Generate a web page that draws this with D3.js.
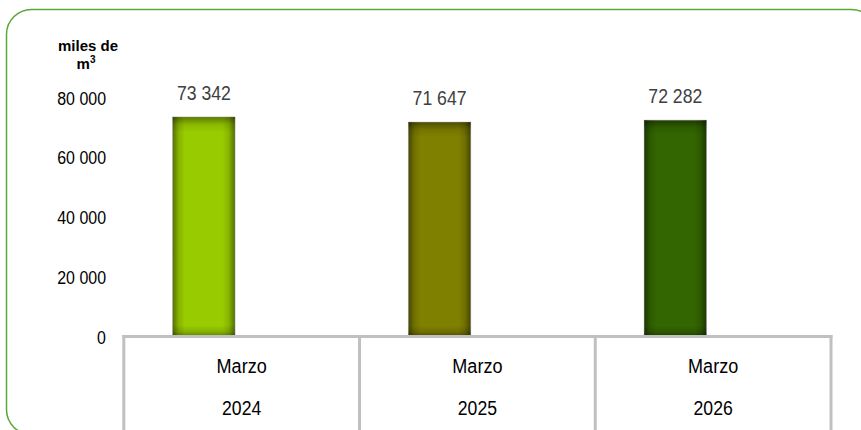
<!DOCTYPE html>
<html>
<head>
<meta charset="utf-8">
<script src="https://cdn.jsdelivr.net/npm/d3@7/dist/d3.min.js"></script>
<style>
  html, body { margin: 0; padding: 0; background: #ffffff; }
  svg { display: block; }
</style>
</head>
<body>
<div id="chart"></div>
<script>
// ---- data ----
const months = ["Marzo", "Marzo", "Marzo"];
const years = ["2024", "2025", "2026"];
const values = [73342, 71647, 72282];
const yTicks = [0, 20000, 40000, 60000, 80000];
const barColors = ["#99cc00", "#808000", "#336600"];
const unitLines = ["miles de", "m"];

const W = 861, H = 430;
const sans = "'Liberation Sans', Arial, sans-serif";
const SX = 0.84; // horizontal condensation of the text
const fmt = v => d3.format(",")(v).replace(/,/g, " ");

const svg = d3.select("#chart").append("svg")
  .attr("width", W).attr("height", H);

// outer rounded border
svg.append("rect")
  .attr("x", 6.5).attr("y", 9.5)
  .attr("width", 870).attr("height", 425)
  .attr("rx", 25).attr("ry", 25)
  .attr("fill", "none")
  .attr("stroke", "#5aa83a")
  .attr("stroke-width", 1.5);

const x = d3.scaleBand()
  .domain(years)
  .range([123.8, 831])
  .paddingInner(0).paddingOuter(0);

const y = d3.scaleLinear()
  .domain([0, 80000])
  .range([336.5, 97]);

// gradients for bar shading
const defs = svg.append("defs");
const hg = defs.append("linearGradient").attr("id", "hshade")
  .attr("x1", "0").attr("x2", "1").attr("y1", "0").attr("y2", "0");
[[0, 0.45], [0.1, 0.12], [0.2, 0], [0.8, 0], [0.9, 0.12], [1, 0.45]].forEach(([o, a]) =>
  hg.append("stop").attr("offset", o).attr("stop-color", "#000").attr("stop-opacity", a));
const vg = defs.append("linearGradient").attr("id", "vshade")
  .attr("x1", "0").attr("x2", "0").attr("y1", "0").attr("y2", "1");
[[0, 0.4], [0.035, 0.1], [0.07, 0], [0.95, 0], [0.98, 0.15], [1, 0.4]].forEach(([o, a]) =>
  vg.append("stop").attr("offset", o).attr("stop-color", "#000").attr("stop-opacity", a));

const barX = d => x(d) + x.bandwidth() * 0.207;
const barW = x.bandwidth() * 0.265;

const bars = svg.append("g").selectAll("g")
  .data(years.map((yr, i) => ({ yr, v: values[i], c: barColors[i] })))
  .join("g");

bars.append("rect")
  .attr("x", d => barX(d.yr)).attr("y", d => y(d.v))
  .attr("width", barW).attr("height", d => y(0) - y(d.v))
  .attr("fill", d => d.c)
  .attr("stroke", "#d4d4d4").attr("stroke-width", 0.8);
bars.append("rect")
  .attr("x", d => barX(d.yr)).attr("y", d => y(d.v))
  .attr("width", barW).attr("height", d => y(0) - y(d.v))
  .attr("fill", "url(#hshade)");
bars.append("rect")
  .attr("x", d => barX(d.yr)).attr("y", d => y(d.v))
  .attr("width", barW).attr("height", d => y(0) - y(d.v))
  .attr("fill", "url(#vshade)");

// value labels
bars.append("text")
  .attr("transform", d => `translate(${barX(d.yr) + barW / 2},${y(d.v) - 17}) scale(${SX},1)`)
  .attr("text-anchor", "middle")
  .attr("font-family", sans)
  .attr("font-size", 21)
  .attr("fill", "#404040")
  .text(d => fmt(d.v));

// y axis labels (no line)
const yAxis = d3.axisLeft(y).tickValues(yTicks).tickSize(0).tickPadding(0).tickFormat(fmt);
const gy = svg.append("g").attr("transform", "translate(106,1)").call(yAxis);
gy.select(".domain").remove();
gy.selectAll("text")
  .attr("x", null)
  .attr("transform", `scale(${SX},1)`)
  .attr("font-family", sans)
  .attr("font-size", 19)
  .attr("fill", "#000");

// category axis lines
const axisColor = "#c0c0c0";
svg.append("line")
  .attr("x1", 122.3).attr("x2", 832.5)
  .attr("y1", y(0)).attr("y2", y(0))
  .attr("stroke", axisColor).attr("stroke-width", 3);
const bounds = years.map(d => x(d)).concat([x.range()[1]]);
svg.append("g").selectAll("line")
  .data(bounds).join("line")
  .attr("x1", d => d).attr("x2", d => d)
  .attr("y1", y(0) - 1.5).attr("y2", H)
  .attr("stroke", axisColor).attr("stroke-width", 3);

// category labels (two rows)
const cat = svg.append("g").selectAll("g")
  .data(years.map((yr, i) => ({ yr, m: months[i] })))
  .join("g");
cat.append("text")
  .attr("transform", d => `translate(${x(d.yr) + x.bandwidth() / 2},372.7) scale(0.86,1)`)
  .attr("text-anchor", "middle")
  .attr("font-family", sans).attr("font-size", 21).attr("fill", "#000")
  .text(d => d.m);
cat.append("text")
  .attr("transform", d => `translate(${x(d.yr) + x.bandwidth() / 2},415) scale(${SX},1)`)
  .attr("text-anchor", "middle")
  .attr("font-family", sans).attr("font-size", 21).attr("fill", "#000")
  .text(d => d.yr);

// unit title
const ut = svg.append("text")
  .attr("text-anchor", "middle")
  .attr("font-family", sans)
  .attr("font-weight", "bold")
  .attr("font-size", 15)
  .attr("fill", "#000");
ut.append("tspan").attr("x", 88).attr("y", 51).text(unitLines[0]);
ut.append("tspan").attr("x", 86).attr("y", 68.5).text(unitLines[1]);
ut.append("tspan").attr("dy", -6).attr("font-size", 10).text("3");
</script>
</body>
</html>
